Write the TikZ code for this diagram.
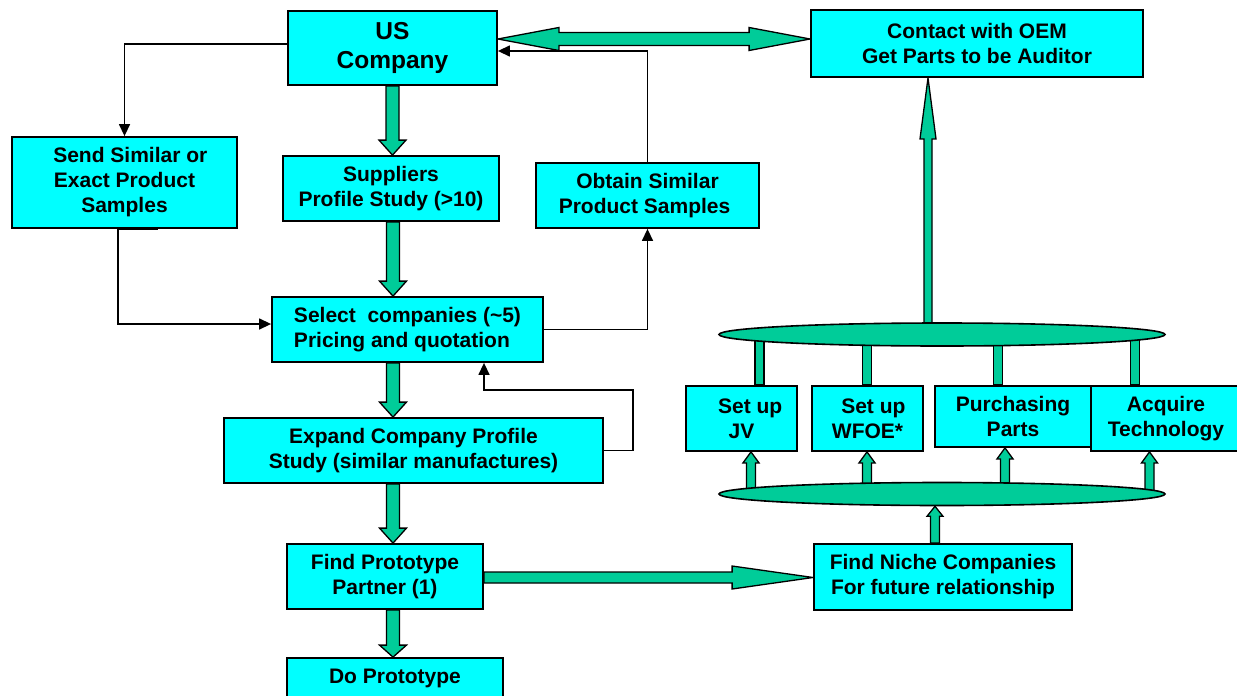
\documentclass[tikz,border=0pt]{standalone}
\usepackage{fontspec}
\setmainfont{Liberation Sans}
\usetikzlibrary{calc,arrows.meta,shapes.geometric}
\definecolor{boxcyan}{RGB}{0,255,255}
\definecolor{fatgreen}{RGB}{0,204,153}
\pgfdeclarelayer{bg}
\pgfsetlayers{bg,main}
\tikzset{
  box/.style={draw=black, line width=1.8pt, fill=boxcyan, inner sep=0pt, align=center,
    font=\fontsize{21}{25}\selectfont\bfseries},
  bigbox/.style={box, font=\fontsize{24.5}{29}\selectfont\bfseries},
  fatpart/.style={draw=black, line width=1.3pt, fill=fatgreen, line join=miter},
  plate/.style={ellipse, draw=black, line width=1.6pt, fill=fatgreen, inner sep=0pt},
  thinarrow/.style={draw=black, line width=1.4pt, -{Triangle[length=12pt,width=11pt]}},
  thinline/.style={draw=black, line width=1.4pt}
}
% vertical fat arrow: x and start y from #1, tip y from #2
\newcommand{\fatv}[5]{%
  \draw[fatpart] let \p1=(#1), \p2=(#2), \n1={sign(\y2-\y1)} in
    ({\x1-#3},\y1) -- ({\x1-#3},{\y2-\n1*#5}) -- ({\x1-#4},{\y2-\n1*#5}) -- (\x1,\y2)
    -- ({\x1+#4},{\y2-\n1*#5}) -- ({\x1+#3},{\y2-\n1*#5}) -- ({\x1+#3},\y1) -- cycle;}
% vertical fat bar, no head
\newcommand{\fatbar}[3]{%
  \draw[fatpart] let \p1=(#1), \p2=(#2) in ({\x1-#3},\y1) rectangle ({\x1+#3},\y2);}
% horizontal fat arrow, left to right, y from #1
\newcommand{\fath}[5]{%
  \draw[fatpart] let \p1=(#1), \p2=(#2) in
    (\x1,{\y1+#3}) -- ({\x2-#5},{\y1+#3}) -- ({\x2-#5},{\y1+#4}) -- (\x2,\y1)
    -- ({\x2-#5},{\y1-#4}) -- ({\x2-#5},{\y1-#3}) -- (\x1,{\y1-#3}) -- cycle;}
% horizontal double-headed fat arrow
\newcommand{\fathh}[5]{%
  \draw[fatpart] let \p1=(#1), \p2=(#2) in
    (\x1,\y1) -- ({\x1+#5},{\y1+#4}) -- ({\x1+#5},{\y1+#3}) -- ({\x2-#5},{\y1+#3}) -- ({\x2-#5},{\y1+#4})
    -- (\x2,\y1) -- ({\x2-#5},{\y1-#4}) -- ({\x2-#5},{\y1-#3}) -- ({\x1+#5},{\y1-#3}) -- ({\x1+#5},{\y1-#4}) -- cycle;}
\begin{document}
\begin{tikzpicture}[x=1pt,y=-1pt]
\useasboundingbox (0,0) rectangle (1237,696);

% boxes
\node[bigbox, minimum width=209pt, minimum height=74pt] (us) at (392.5,48) {US\\Company};
\node[box, minimum width=332pt, minimum height=67pt] (oem) at (977,43.5) {Contact with OEM\\Get Parts to be Auditor};
\node[box, minimum width=225pt, minimum height=91pt] (send) at (124.5,182.5) {\ \ Send Similar or\\Exact Product\\Samples};
\node[box, minimum width=216pt, minimum height=65pt] (sup) at (391,188.5) {Suppliers\\Profile Study (>10)};
\node[box, minimum width=223pt, minimum height=65pt] (obt) at (647.5,195.5) {Obtain Similar\\Product Samples\ \ };
\node[box, minimum width=271pt, minimum height=65pt, align=left] (sel) at (407.5,329.5) {Select\ \ companies (\textasciitilde5)\\Pricing and quotation};
\node[box, minimum width=379pt, minimum height=65pt] (exp) at (413.5,450.5) {Expand Company Profile\\Study (similar manufactures)};
\node[box, minimum width=196pt, minimum height=65pt] (proto) at (385,576.5) {Find Prototype\\Partner (1)};
\node[box, minimum width=216pt, minimum height=40pt] (do) at (395,678) {Do Prototype};
\node[box, minimum width=258pt, minimum height=66pt] (niche) at (943,577) {Find Niche Companies\\For future relationship};
\node[box, minimum width=111pt, minimum height=65pt] (jv) at (741.5,418.5) {\ \ \ Set up\\JV};
\node[box, minimum width=111pt, minimum height=65pt] (wfoe) at (867.5,418.5) {\ \ Set up\\WFOE*};
\node[box, minimum width=156pt, minimum height=61pt] (purch) at (1013,416.5) {Purchasing\\Parts};
\node[box, minimum width=150pt, minimum height=65pt] (acq) at (1166,418.5) {Acquire\\Technology};

% plates
\node[plate, minimum width=446pt, minimum height=23pt] (topell) at (942,334.5) {};
\node[plate, minimum width=446pt, minimum height=23pt] (botell) at (942,494) {};

\begin{pgfonlayer}{bg}
% main chain
\fatv{us.south}{sup.north}{6.5pt}{13.5pt}{15pt}
\fatv{[xshift=2pt]sup.south}{sel.north}{6.5pt}{13.5pt}{15pt}
\fatv{[xshift=-14.5pt]sel.south}{exp.north}{6.5pt}{13.5pt}{15pt}
\fatv{[xshift=-20.5pt]exp.south}{proto.north}{6.5pt}{13.5pt}{15pt}
\fatv{[xshift=8pt]proto.south}{do.north}{6.5pt}{13.5pt}{12pt}
% horizontal
\fathh{[yshift=9pt]us.east}{[yshift=4.5pt]oem.west}{6.5pt}{11.5pt}{61pt}
\fath{[yshift=-1pt]proto.east}{niche.west}{5.5pt}{11.5pt}{81pt}
% plates connections
\fatv{[xshift=-14pt]topell.center}{oem.south}{4pt}{8pt}{61pt}
\fatbar{[xshift=-182.5pt]topell.center}{jv.north}{4.5pt}
\fatbar{[xshift=-75pt]topell.center}{wfoe.north}{4.5pt}
\fatbar{[xshift=56pt]topell.center}{purch.north}{4.5pt}
\fatbar{[xshift=193pt]topell.center}{acq.north}{4.5pt}
\fatv{[xshift=-191pt]botell.center}{jv.south}{4.5pt}{8pt}{11pt}
\fatv{[xshift=-75pt]botell.center}{wfoe.south}{4.5pt}{8pt}{11pt}
\fatv{[xshift=63pt]botell.center}{purch.south}{4.5pt}{8pt}{11pt}
\fatv{[xshift=207.5pt]botell.center}{acq.south}{4.5pt}{8pt}{11pt}
\fatv{[xshift=-8pt]niche.north}{botell.south}{4.5pt}{8pt}{10pt}
\end{pgfonlayer}

% thin connectors
\draw[thinarrow] ([yshift=4pt]us.west) -| (send.north);
\draw[thinarrow] ([xshift=-6.5pt]send.south) |- ([yshift=5.5pt]sel.west);
\draw[line width=2.6pt] ([xshift=-6.5pt]send.south) -- ([xshift=33.5pt]send.south);
\draw[thinarrow] (sel.east) -| (obt.south);
\draw[thinarrow] (obt.north) |- ([yshift=-3pt]us.east);
\draw[thinarrow] (exp.east) -- ++(29,0) -- ++(0,-60.5) -| ([xshift=76.5pt]sel.south);
\end{tikzpicture}
\end{document}
